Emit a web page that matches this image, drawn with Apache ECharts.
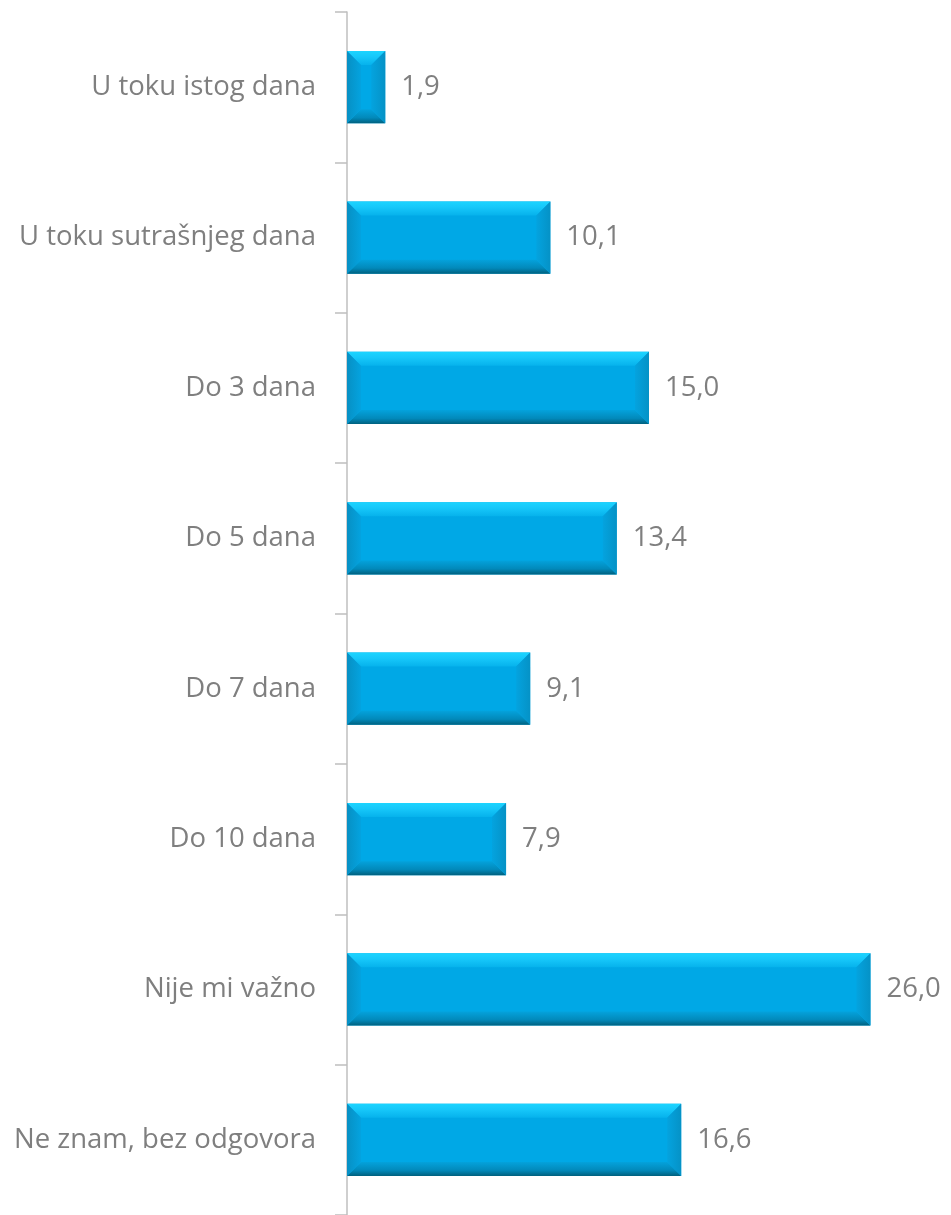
<!DOCTYPE html>
<html><head><meta charset="utf-8">
<script src="https://cdn.jsdelivr.net/npm/echarts@6/dist/echarts.min.js"></script>
<style>html,body{margin:0;padding:0;background:#fff}#c{width:951px;height:1215px}</style>
</head><body><div id="c"></div>
<script>
const categories = ["U toku istog dana","U toku sutrašnjeg dana","Do 3 dana","Do 5 dana","Do 7 dana","Do 10 dana","Nije mi važno","Ne znam, bez odgovora"];
const values = [1.9, 10.1, 15.0, 13.4, 9.1, 7.9, 26.0, 16.6];

const chart = echarts.init(document.getElementById('c'));
const FONT = 'Open Sans';
const FS = 27.5;
const BEV = 14;
function renderBevel(params, api) {
  const v = api.value(0), idx = api.value(1);
  const p0 = api.coord([0, idx]);
  const p1 = api.coord([v, idx]);
  const bandH = api.size([0, 1])[1];
  const h = bandH * 0.48;
  const x0 = p0[0], x1 = p1[0], yc = p0[1];
  const y0 = yc - h / 2, y1 = yc + h / 2;
  const b = Math.min(BEV, (x1 - x0) / 2, h / 2);
  return {
    type: 'group',
    children: [
      { type: 'polygon', shape: { points: [[x0, y0], [x1, y0], [x1 - b, y0 + b], [x0 + b, y0 + b]] },
        style: { fill: new echarts.graphic.LinearGradient(0, 0, 0, 1, [{offset: 0, color: '#1cd4ff'}, {offset: 0.4, color: '#17c8fa'}, {offset: 1, color: '#06b2ec'}]) } },
      { type: 'polygon', shape: { points: [[x0, y1], [x1, y1], [x1 - b, y1 - b], [x0 + b, y1 - b]] },
        style: { fill: new echarts.graphic.LinearGradient(0, 0, 0, 1, [{offset: 0, color: '#04a2dc'}, {offset: 0.6, color: '#0289ba'}, {offset: 1, color: '#00617f'}]) } },
      { type: 'polygon', shape: { points: [[x0, y0], [x0 + b, y0 + b], [x0 + b, y1 - b], [x0, y1]] },
        style: { fill: new echarts.graphic.LinearGradient(0, 0, 1, 0, [{offset: 0, color: '#0790c4'}, {offset: 1, color: '#04a3df'}]) } },
      { type: 'polygon', shape: { points: [[x1, y0], [x1 - b, y0 + b], [x1 - b, y1 - b], [x1, y1]] },
        style: { fill: new echarts.graphic.LinearGradient(0, 0, 1, 0, [{offset: 0, color: '#04a3df'}, {offset: 1, color: '#0592c6'}]) } }
    ]
  };
}

chart.setOption({
  animation: false,
  grid: { left: 347, width: 604, top: 12, height: 1208, containLabel: false },
  xAxis: { type: 'value', min: 0, max: 30, show: false },
  yAxis: {
    type: 'category', data: categories, inverse: true,
    axisLine: { show: true, lineStyle: { color: '#bfbfbf', width: 1.5 } },
    axisTick: { show: true, length: 12, lineStyle: { color: '#bfbfbf', width: 1.5 } },
    axisLabel: { color: '#7f7f7f', fontSize: FS, fontFamily: FONT, margin: 31, padding: [4, 0, 0, 0] },
    splitLine: { show: false }
  },
  series: [
    { type: 'bar', data: values, barCategoryGap: '52%', itemStyle: { color: '#00a8e6' },
      label: { show: true, position: 'right', distance: 16, color: '#7f7f7f', fontSize: FS, fontFamily: FONT,
        padding: [4, 0, 0, 0],
        formatter: (p) => p.value.toFixed(1).replace('.', ',') } },
    { type: 'custom', renderItem: renderBevel, encode: { x: 0, y: 1 },
      data: values.map((v, i) => [v, i]), z: 3, silent: true }
  ]
});
</script></body></html>
